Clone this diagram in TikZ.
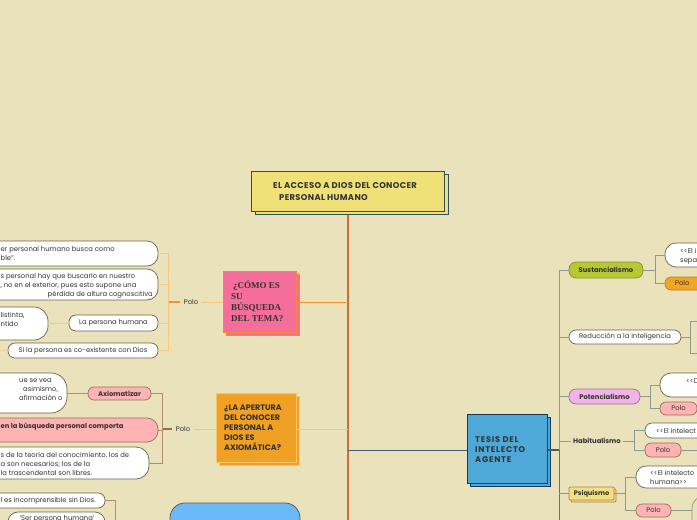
\documentclass[tikz,border=0pt]{standalone}
\usepackage{fontspec}
\setmainfont{Poppins}
\newfontfamily\serifb{Liberation Serif}
\newfontfamily\sptitle[LetterSpace=4]{Poppins}
\newfontfamily\sptes[LetterSpace=9.5]{Poppins}
\usetikzlibrary{shadows}
\definecolor{bg}{HTML}{E9E2BA}
\definecolor{titlefill}{HTML}{F0E078}
\definecolor{titlebord}{HTML}{2F4F5F}
\definecolor{mainline}{HTML}{C8703A}
\definecolor{pinkline}{HTML}{F39030}
\definecolor{pinkfill}{HTML}{F46D9B}
\definecolor{pinkbord}{HTML}{F28A2E}
\definecolor{orfill}{HTML}{F0A023}
\definecolor{orbord}{HTML}{F8C46A}
\definecolor{orline}{HTML}{F8C880}
\definecolor{brline}{HTML}{B88A6A}
\definecolor{wbord}{HTML}{6E6250}
\definecolor{rosefill}{HTML}{FFB3B3}
\definecolor{rosebord}{HTML}{9A7060}
\definecolor{tesfill}{HTML}{4EA8D8}
\definecolor{tesbord}{HTML}{173A56}
\definecolor{tesline}{HTML}{3E5E70}
\definecolor{grline}{HTML}{8A9C90}
\definecolor{grlineb}{HTML}{5E7676}
\definecolor{susfill}{HTML}{B8C832}
\definecolor{susbord}{HTML}{8A9040}
\definecolor{potfill}{HTML}{F2B4E6}
\definecolor{potbord}{HTML}{A07090}
\definecolor{psifill}{HTML}{F0E080}
\definecolor{psibord}{HTML}{B08050}
\definecolor{bluefill}{HTML}{6BB9F9}
\definecolor{txtc}{HTML}{333333}
\begin{document}
\begin{tikzpicture}[x=1pt,y=-1pt,
  wbox/.style={draw=wbord, fill=white, line width=0.7pt, rounded corners=11pt, inner sep=0pt},
  pill/.style={draw=wbord, fill=white, line width=0.7pt, rounded corners=6pt, inner sep=0pt, font=\fontsize{6.8}{8}\selectfont, text=txtc},
  rosepill/.style={pill, draw=rosebord, fill=rosefill},
  txt/.style={inner sep=0pt, anchor=west, align=left, font=\fontsize{6.8}{9}\selectfont, text=txtc},
  polo/.style={inner sep=4pt, font=\fontsize{6.8}{8}\selectfont, text=txtc},
  conn/.style={line width=0.7pt},
]
\useasboundingbox[fill=bg] (0,0) rectangle (697,520);
\clip (0,0) rectangle (697,520);

% ---------- title and main stem ----------
\node[draw=titlebord, fill=titlefill, line width=1pt, minimum width=193pt, minimum height=40pt, inner sep=0pt,
  copy shadow={shadow xshift=3.5pt, shadow yshift=-3.5pt}] (title) at (348,191) {};
\node[inner sep=0pt, anchor=west, align=left, font=\sptitle\fontsize{8.4}{12}\selectfont\bfseries, text=txtc] (titletxt) at (273,191.5)
  {EL ACCESO A DIOS DEL CONOCER\\\hspace*{6pt}PERSONAL HUMANO};
\coordinate (stemend) at (348,525);
\draw[mainline, line width=1.3pt] (348,214.5) -- (stemend);

% ---------- pink branch ----------
\node[draw=pinkbord, fill=pinkfill, line width=1pt, minimum width=73pt, minimum height=61pt, inner sep=0pt,
  copy shadow={shadow xshift=3pt, shadow yshift=-3pt}] (pink) at (259.5,301.5) {};
\node[inner sep=0pt, anchor=west, align=left, font=\serifb\fontsize{9}{11}\selectfont\bfseries, text=txtc] (pinktxt) at (231,301.5)
  {\hspace*{2pt}¿CÓMO ES\\SU\\BÚSQUEDA\\DEL TEMA?};
\coordinate (pj) at (348,302);
\draw[pinkline, line width=1pt] (pj) -- (pink.east |- pj);

\node[polo] (polo1) at (191,302) {Polo};
\coordinate (bk1) at (168,302);
\draw[orline, conn] (pink.west |- polo1) -- (polo1.east);
\draw[pinkline, line width=1.2pt] (polo1.west) -- (bk1);

\node[wbox, minimum width=198pt, minimum height=25pt] (n1) at (59,253.5) {};
\node[txt] (n1t) at (0.5,254) {er personal humano busca como\\ble”.};
\node[wbox, minimum width=198pt, minimum height=31pt] (n2) at (59,284.5) {};
\node[txt] (n2t) at (0.5,286) {s personal hay que buscarlo en nuestro\\, no en el exterior, pues esto supone una\\\hspace*{47pt}pérdida de altura cognoscitiva};
\node[wbox, minimum width=88pt, minimum height=33pt, rounded corners=14pt] (n3) at (4,323.5) {};
\node[txt] (n3t) at (0.5,319.5) {listinta,\\ntido};
\node[pill, minimum width=89pt, minimum height=16pt, rounded corners=7pt] (lph) at (113.5,323) {La persona humana};
\node[pill, minimum width=150pt, minimum height=15pt, rounded corners=7pt] (n4) at (83,350.5) {Si la persona es co-existente con Dios};
\coordinate (n4l) at (-2,351);

\draw[orline, conn] (n1.east) -- (n1.east -| bk1) -- (n4.east -| bk1) -- (n4.east);
\draw[orline, conn] (n2.east) -- (n2.east -| bk1);
\draw[orline, conn] (lph.east) -- (lph.east -| bk1);
\draw[orline, conn] (n3.east |- lph) -- (lph.west);
\draw[orline, conn] (n4.west) -- (n4l);

% ---------- orange branch ----------
\node[draw=orbord, fill=orfill, line width=1pt, minimum width=80pt, minimum height=69pt, inner sep=0pt,
  copy shadow={shadow xshift=3pt, shadow yshift=-3pt}] (orn) at (256,427.5) {};
\node[inner sep=0pt, anchor=west, align=left, font=\fontsize{8}{10}\selectfont\bfseries, text=txtc] (orntxt) at (224,428)
  {¿LA APERTURA\\DEL CONOCER\\PERSONAL A\\DIOS ES\\AXIOMÁTICA?};
\coordinate (oj) at (348,429);
\draw[orline, line width=1pt] (oj) -- (orn.east |- oj);

\node[polo] (polo2) at (183,429) {Polo};
\coordinate (bk2) at (162,429);
\draw[orline, conn] (orn.west |- polo2) -- (polo2.east);
\draw[brline!80!black, line width=1.2pt] (polo2.west) -- (bk2);

\node[rosepill, minimum width=63pt, minimum height=13pt, font=\fontsize{6.8}{8}\selectfont\bfseries] (axi) at (119.5,393.5) {Axiomatizar};
\node[wbox, minimum width=107pt, minimum height=40pt, rounded corners=16pt] (a1) at (13.5,393) {};
\node[txt] (a1t) at (19,389.5) {ue se vea\\\hspace*{4pt}asimismo,\\afirmación o};
\node[wbox, draw=rosebord, fill=rosefill, minimum width=198pt, minimum height=24pt] (a2) at (59,430) {};
\node[txt, font=\fontsize{6.8}{9}\selectfont\bfseries] (a2t) at (0.5,427) {en la búsqueda personal comporta};
\node[wbox, minimum width=189pt, minimum height=32pt, rounded corners=13pt] (a3) at (54.5,463) {};
\node[txt] (a3t) at (0.5,463.5) {s de la teoría del conocimiento, los de\\a son necesarios; los de la\\la trascendental son libres.};

\draw[brline, conn] (axi.east) -- (axi.east -| bk2) -- (a3.east -| bk2) -- (a3.east);
\draw[brline, conn] (a2.east) -- (a2.east -| bk2);
\draw[brline, conn] (a1.east |- axi) -- (axi.west);

% ---------- bottom left ----------
\node[pill, minimum width=145pt, minimum height=15pt, rounded corners=7pt] (b1) at (32.5,500.5) {};
\node[txt] (b1t) at (0.5,500.5) {l es incomprensible sin Dios.};
\node[pill, minimum width=97pt, minimum height=23pt, rounded corners=10pt] (b2) at (56.5,523.5) {};
\node[inner sep=0pt, font=\fontsize{6.8}{8}\selectfont, text=txtc] (b2t) at (57,518.5) {‘Ser persona humana’};
\coordinate (bk3) at (115,500.5);
\coordinate (bk3e) at (115,525);
\draw[brline, conn] (b1.east) -- (bk3) -- (bk3e);
\node[draw=txtc!80, fill=bluefill, line width=0.8pt, rounded corners=15pt, minimum width=130pt, minimum height=57pt, inner sep=0pt] (blue) at (235,531.5) {};

% ---------- TESIS branch ----------
\node[draw=tesbord, fill=tesfill, line width=1pt, minimum width=80pt, minimum height=69pt, inner sep=0pt,
  copy shadow={shadow xshift=3pt, shadow yshift=-3pt}] (tes) at (507,448.5) {};
\node[inner sep=0pt, anchor=west, align=left, font=\sptes\fontsize{8.2}{10}\selectfont\bfseries, text=txtc] (testxt) at (475,450)
  {TESIS DEL\\INTELECTO\\AGENTE};
\coordinate (tj) at (348,450);
\draw[tesline, line width=1pt] (tj) -- (tes.west |- tj);
\coordinate (bk4) at (559,450);
\coordinate (bk4e) at (559,525);
\draw[tesline, line width=1.2pt] (tes.east |- bk4) -- (bk4);

\node[pill, draw=susbord, fill=susfill, minimum width=74pt, minimum height=16pt, rounded corners=7pt, font=\fontsize{6.8}{8}\selectfont\bfseries] (sus) at (606,270) {Sustancialismo};
\node[pill, minimum width=112pt, minimum height=14pt, rounded corners=7pt] (red) at (625,337) {Reducción a la inteligencia};
\node[pill, draw=potbord, fill=potfill, minimum width=71pt, minimum height=15pt, rounded corners=7pt, font=\fontsize{6.8}{8}\selectfont\bfseries] (pot) at (604.5,396.5) {Potencialismo};
\node[inner sep=2pt, font=\fontsize{6.8}{8}\selectfont\bfseries, text=txtc] (hab) at (597,441) {Habitualismo};
\node[draw=psibord, fill=psifill, line width=0.8pt, rounded corners=1pt, minimum width=45pt, minimum height=13pt, inner sep=0pt,
  font=\fontsize{6.6}{8}\selectfont\bfseries, text=txtc, copy shadow={shadow xshift=2pt, shadow yshift=-2pt}] (psi) at (591.5,493.5) {Psiquismo};

\draw[grline, conn] (sus.west) -- (sus.west -| bk4) -- (bk4);
\draw[grlineb, conn] (bk4) -- (bk4e);
\draw[grline, conn] (red.west) -- (red.west -| bk4);
\draw[grline, conn] (pot.west) -- (pot.west -| bk4);
\draw[grline, conn] (hab.west) -- (hab.west -| bk4);
\draw[grline, conn] (psi.west) -- (psi.west -| bk4);

% Sustancialismo children
\coordinate (sb) at (655,270);
\node[pill, minimum width=75pt, minimum height=24pt, rounded corners=11pt] (s1) at (702.5,255) {};
\node[txt] (s1t) at (680,256) {<{}<El i\\sepa};
\node[pill, draw=orfill!80!black, fill=orfill!95!yellow, minimum width=75pt, minimum height=13pt] (s2) at (702.5,283.5) {};
\node[txt] (s2t) at (675,283.5) {Polo};
\draw[grline, conn] (sus.east) -- (sb);
\draw[grline, conn] (s1.west) -- (s1.west -| sb) -- (s2.west -| sb) -- (s2.west);

% Reduccion children (off canvas)
\coordinate (rb) at (690,337);
\coordinate (r1) at (700,321);
\coordinate (r2) at (700,353);
\draw[grline, conn] (red.east) -- (rb);
\draw[grline, conn] (r1) -- (r1 -| rb) -- (r2 -| rb) -- (r2);

% Potencialismo children
\coordinate (pb) at (650,396.5);
\node[pill, minimum width=80pt, minimum height=24pt, rounded corners=11pt] (p1) at (700,385) {};
\node[txt] (p1t) at (686,381) {<{}<D};
\node[rosepill, minimum width=37pt, minimum height=13pt] (p2) at (678.5,408.5) {Polo};
\draw[grline, conn] (pot.east) -- (pb);
\draw[grline, conn] (p1.west) -- (p1.west -| pb) -- (p2.west -| pb) -- (p2.west);

% Habitualismo children
\coordinate (hb) at (634,441);
\node[pill, minimum width=95pt, minimum height=15pt, rounded corners=7pt] (h1) at (692.5,430.5) {};
\node[txt] (h1t) at (656,431) {<{}<El intelect};
\node[rosepill, minimum width=36pt, minimum height=14pt] (h2) at (663,450) {Polo};
\coordinate (h2r) at (702,450);
\draw[grline, conn] (hab.east) -- (hb);
\draw[grline, conn] (h1.west) -- (h1.west -| hb) -- (h2.west -| hb) -- (h2.west);
\draw[grline, conn] (h2.east) -- (h2r);

% Psiquismo children
\coordinate (qb) at (625,493.5);
\node[pill, minimum width=104pt, minimum height=22pt, rounded corners=10pt] (q1) at (688,477) {};
\node[txt] (q1t) at (650,477.5) {<{}<El intelecto\\humana>{}>};
\node[rosepill, minimum width=35pt, minimum height=13pt] (q2) at (653.5,510.5) {Polo};
\node[draw=grline, line width=0.7pt, rounded corners=14pt, minimum width=68pt, minimum height=50pt, inner sep=0pt] (q3) at (726,520) {};
\draw[grline, conn] (psi.east) -- (qb);
\draw[grline, conn] (q1.west) -- (q1.west -| qb) -- (q2.west -| qb) -- (q2.west);
\draw[grline, conn] (q2.east) -- (q2.east -| q3.west);
\end{tikzpicture}
\end{document}
